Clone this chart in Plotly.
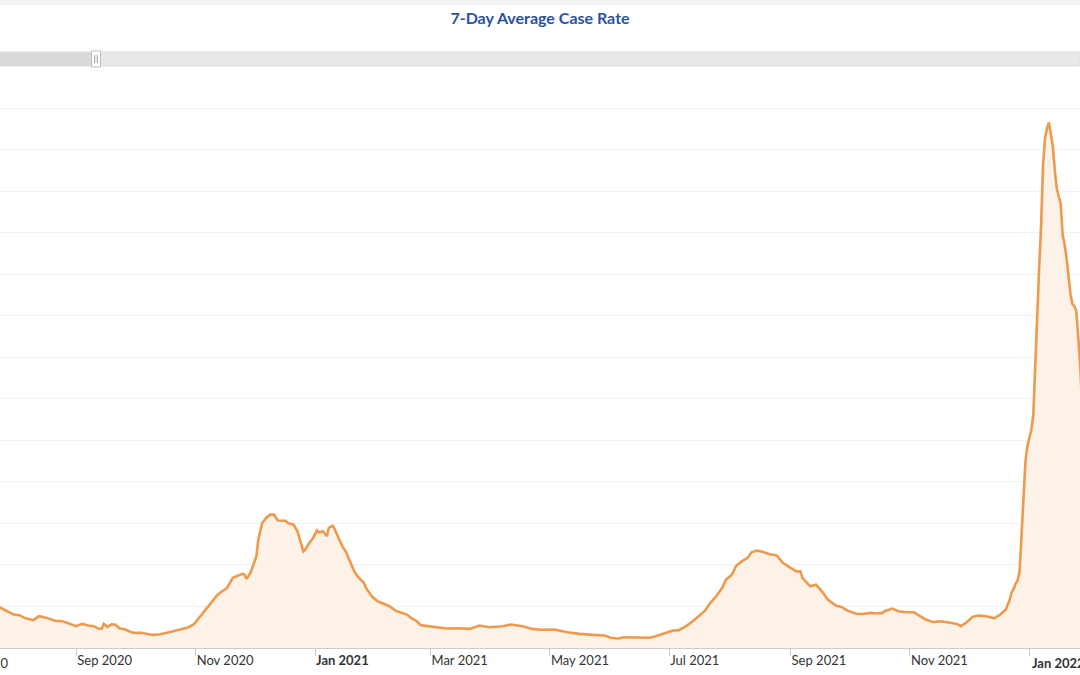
import plotly.graph_objects as go

# ---- data ----
dates = [
    "2020-07-20", "2020-07-24", "2020-07-29", "2020-07-31", "2020-08-03", "2020-08-06",
    "2020-08-10", "2020-08-13", "2020-08-17", "2020-08-21", "2020-08-25", "2020-08-29",
    "2020-09-01", "2020-09-04", "2020-09-07", "2020-09-10", "2020-09-12", "2020-09-14",
    "2020-09-15", "2020-09-17", "2020-09-19", "2020-09-21", "2020-09-23", "2020-09-26",
    "2020-09-30", "2020-10-04", "2020-10-06", "2020-10-10", "2020-10-14", "2020-10-17",
    "2020-10-20", "2020-10-24", "2020-10-28", "2020-10-31", "2020-11-02", "2020-11-05",
    "2020-11-07", "2020-11-10", "2020-11-12", "2020-11-14", "2020-11-17", "2020-11-20",
    "2020-11-25", "2020-11-26", "2020-11-27", "2020-11-29", "2020-11-30", "2020-12-02",
    "2020-12-03", "2020-12-05", "2020-12-07", "2020-12-09", "2020-12-11", "2020-12-13",
    "2020-12-17", "2020-12-18", "2020-12-21", "2020-12-23", "2020-12-24", "2020-12-26",
    "2020-12-27", "2020-12-29", "2020-12-31", "2021-01-02", "2021-01-03", "2021-01-05",
    "2021-01-07", "2021-01-08", "2021-01-10", "2021-01-11", "2021-01-13", "2021-01-15",
    "2021-01-17", "2021-01-19", "2021-01-21", "2021-01-23", "2021-01-26", "2021-01-27",
    "2021-01-30", "2021-02-02", "2021-02-06", "2021-02-08", "2021-02-11", "2021-02-14",
    "2021-02-17", "2021-02-19", "2021-02-22", "2021-02-24", "2021-02-28", "2021-03-04",
    "2021-03-09", "2021-03-14", "2021-03-21", "2021-03-26", "2021-03-31", "2021-04-07",
    "2021-04-11", "2021-04-17", "2021-04-22", "2021-04-26", "2021-05-03", "2021-05-10",
    "2021-05-16", "2021-05-23", "2021-05-29", "2021-06-01", "2021-06-05", "2021-06-08",
    "2021-06-14", "2021-06-21", "2021-06-24", "2021-06-29", "2021-07-03", "2021-07-06",
    "2021-07-10", "2021-07-13", "2021-07-17", "2021-07-19", "2021-07-22", "2021-07-25",
    "2021-07-28", "2021-07-30", "2021-08-02", "2021-08-04", "2021-08-07", "2021-08-10",
    "2021-08-12", "2021-08-15", "2021-08-17", "2021-08-21", "2021-08-25", "2021-08-28",
    "2021-09-01", "2021-09-04", "2021-09-06", "2021-09-07", "2021-09-11", "2021-09-14",
    "2021-09-17", "2021-09-20", "2021-09-24", "2021-09-27", "2021-09-30", "2021-10-05",
    "2021-10-08", "2021-10-12", "2021-10-15", "2021-10-18", "2021-10-19", "2021-10-23",
    "2021-10-26", "2021-10-30", "2021-11-03", "2021-11-06", "2021-11-09", "2021-11-13",
    "2021-11-16", "2021-11-20", "2021-11-25", "2021-11-27", "2021-11-30", "2021-12-03",
    "2021-12-06", "2021-12-10", "2021-12-14", "2021-12-17", "2021-12-20", "2021-12-21",
    "2021-12-22", "2021-12-23", "2021-12-24", "2021-12-25", "2021-12-26", "2021-12-27",
    "2021-12-28", "2021-12-29", "2021-12-30", "2021-12-31", "2022-01-01", "2022-01-02",
    "2022-01-03", "2022-01-04", "2022-01-05", "2022-01-06", "2022-01-07", "2022-01-08",
    "2022-01-09", "2022-01-10", "2022-01-11", "2022-01-12", "2022-01-13", "2022-01-14",
    "2022-01-15", "2022-01-16", "2022-01-17", "2022-01-18", "2022-01-19", "2022-01-20",
    "2022-01-21", "2022-01-22", "2022-01-23", "2022-01-24", "2022-01-25", "2022-01-26",
    "2022-01-27", "2022-01-28",
]
case_rate = [
    21.5, 19.5, 17.1, 16.1, 15.8, 14.3,
    13.4, 15.3, 14.5, 13.1, 12.9, 11.6,
    10.5, 11.6, 10.8, 10.5, 9.4, 9.2,
    11.6, 10.2, 11.4, 11.2, 9.5, 8.9,
    7.3, 7.3, 7.0, 6.3, 6.6, 7.1,
    7.9, 8.9, 9.9, 11.3, 13.7, 16.9,
    19.3, 23.3, 25.4, 27.0, 28.9, 33.8,
    35.8, 35.3, 33.3, 36.2, 39.0, 44.1,
    52.2, 60.2, 62.6, 64.2, 64.2, 61.4,
    61.3, 60.2, 59.4, 56.2, 53.0, 46.5,
    47.4, 50.6, 53.0, 56.6, 55.7, 56.2,
    53.8, 57.8, 58.9, 57.3, 53.0, 48.9,
    45.8, 41.7, 36.9, 34.2, 31.3, 28.9,
    24.9, 22.5, 20.9, 20.1, 18.0, 16.9,
    16.1, 14.5, 12.9, 11.0, 10.5, 9.9,
    9.4, 9.5, 9.2, 10.8, 10.0, 10.5,
    11.3, 10.5, 9.2, 8.8, 8.9, 7.6,
    6.8, 6.3, 6.0, 4.9, 4.6, 5.2,
    4.9, 4.9, 5.7, 7.0, 8.4, 8.6,
    10.8, 12.9, 16.1, 17.7, 21.7, 24.9,
    28.9, 32.9, 35.3, 39.3, 41.7, 43.4,
    46.1, 46.9, 46.5, 45.3, 44.5, 41.0,
    38.6, 36.9, 36.9, 33.8, 29.7, 30.5,
    27.3, 23.3, 20.4, 19.8, 18.0, 16.4,
    16.4, 16.9, 16.6, 16.9, 17.7, 19.0,
    17.7, 17.2, 17.2, 15.6, 13.7, 12.4,
    12.9, 12.4, 11.6, 10.5, 12.4, 15.0,
    15.6, 15.3, 14.3, 16.0, 18.5, 21.0,
    23.3, 27.0, 28.5, 31.0, 32.5, 36.8,
    55.5, 73.3, 89.7, 97.4, 101.7, 105.0,
    112.0, 138.7, 160.3, 183.0, 203.6, 232.5,
    245.4, 250.2, 253.1, 246.4, 241.6, 230.0,
    221.4, 217.5, 214.2, 198.8, 194.5, 187.7,
    178.1, 170.5, 165.6, 164.6, 162.3, 150.7,
    136.0, 115.0,
]

tick_dates = ["2020-09-01", "2020-11-01", "2021-01-01", "2021-03-01", "2021-05-01",
              "2021-07-01", "2021-09-01", "2021-11-01", "2022-01-01"]
tick_labels = ["Sep 2020", "Nov 2020", "<b>Jan 2021</b>", "Mar 2021", "May 2021",
               "Jul 2021", "Sep 2021", "Nov 2021", "<b>Jan 2022</b>"]
cut_label = "Jul 2020"

x_range = ["2020-07-24", "2022-01-26 21:00"]
y_range = [0, 260.5]

LINE = "#ee9a4d"
FILL = "#fcf2e8"
FONT = "Lato"
TICK_FONT = dict(family=FONT, size=13, color="#333333")

fig = go.Figure()
fig.add_trace(go.Scatter(
    x=dates, y=case_rate, mode="lines",
    line=dict(color=LINE, width=2.6),
    fill="tozeroy", fillcolor=FILL,
    hoverinfo="x+y", showlegend=False,
))

TOP, BOTTOM = 107.0, 648.0
H = BOTTOM - TOP


def py(pix):
    """pixel row (from top of figure) -> paper y"""
    return (BOTTOM - pix) / H


shapes = [
    dict(type="rect", xref="paper", yref="paper", x0=0, x1=1, y0=py(5), y1=py(0),
         fillcolor="#f3f3f3", line=dict(width=0), layer="above"),
    dict(type="rect", xref="paper", yref="paper", x0=0, x1=1, y0=py(66), y1=py(52),
         fillcolor="#e8e8e8", line=dict(color="#dddddd", width=1), layer="above"),
    dict(type="rect", xref="paper", yref="paper", x0=0, x1=96 / 1080, y0=py(66), y1=py(52),
         fillcolor="#dadada", line=dict(width=0), layer="above"),
    dict(type="rect", xref="paper", yref="paper", x0=91.5 / 1080, x1=100.5 / 1080,
         y0=py(67), y1=py(51), fillcolor="#ffffff", line=dict(color="#bdbdbd", width=1),
         layer="above"),
    dict(type="line", xref="paper", yref="paper", x0=94.7 / 1080, x1=94.7 / 1080,
         y0=py(63), y1=py(55), line=dict(color="#9a9a9a", width=1), layer="above"),
    dict(type="line", xref="paper", yref="paper", x0=97.3 / 1080, x1=97.3 / 1080,
         y0=py(63), y1=py(55), line=dict(color="#9a9a9a", width=1), layer="above"),
]

# the last label runs off the right edge in the reference; draw it as an annotation
axis_text = tick_labels[:-1] + [""]

annotations = [
    dict(text=cut_label, xref="paper", yref="paper",
         x=-43 / 1080, y=py(663), xanchor="left", yanchor="middle",
         showarrow=False, font=TICK_FONT),
    dict(text=tick_labels[-1], xref="x", yref="paper",
         x=tick_dates[-1], xshift=1, y=py(663), xanchor="left", yanchor="middle",
         showarrow=False, font=TICK_FONT),
]

fig.update_layout(
    width=1080, height=675,
    margin=dict(l=0, r=0, t=TOP, b=675 - BOTTOM, pad=0),
    paper_bgcolor="#ffffff", plot_bgcolor="#ffffff",
    title=dict(text="<b>7-Day Average Case Rate</b>", x=0.5, xanchor="center",
               y=1 - 18 / 675, yanchor="middle", yref="container",
               font=dict(family=FONT, size=16, color="#2b52a3")),
    font=dict(family=FONT, size=13, color="#333333"),
    shapes=shapes,
    annotations=annotations,
    xaxis=dict(
        type="date", range=x_range,
        tickmode="array", tickvals=tick_dates, ticktext=axis_text,
        ticklabelposition="outside right",
        ticks="outside", ticklen=7, tickcolor="#cccccc", tickwidth=1,
        showline=True, linecolor="#cccccc", linewidth=1,
        showgrid=False, zeroline=False,
        tickfont=TICK_FONT,
        fixedrange=True,
    ),
    yaxis=dict(
        range=y_range, dtick=20, tick0=0,
        showgrid=True, gridcolor="#f1f1f1", gridwidth=1,
        showticklabels=False, zeroline=False, showline=False, ticks="",
        fixedrange=True,
    ),
)

fig.write_html("out.html", config=dict(displayModeBar=False))
